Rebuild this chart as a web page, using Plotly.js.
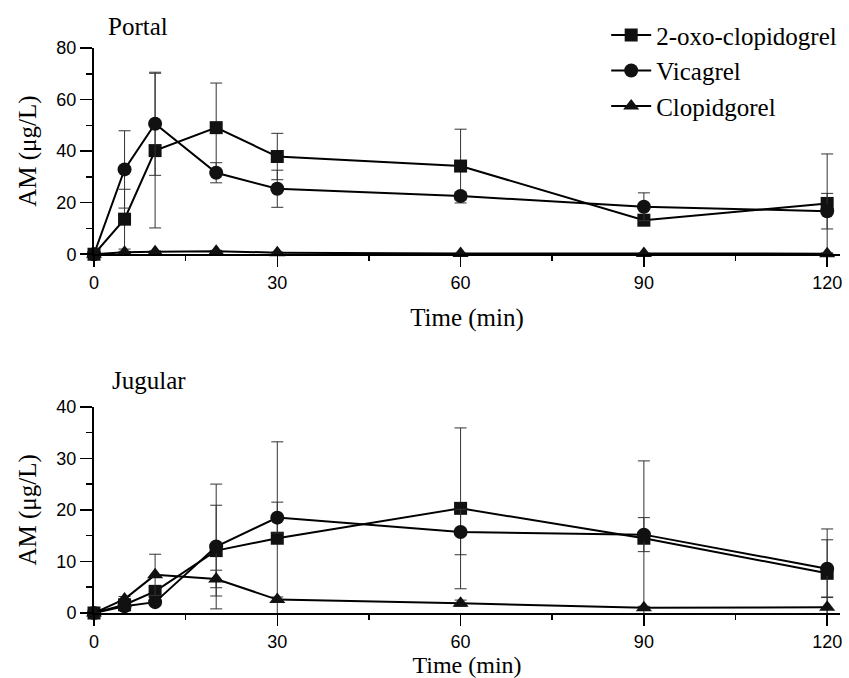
<!DOCTYPE html>
<html>
<head>
<meta charset="utf-8">
<script src="https://cdn.plot.ly/plotly-3.0.1.min.js"></script>
<style>html,body{margin:0;padding:0;background:#fff;}#chart{width:849px;height:678px;}</style>
</head>
<body>
<div id="chart"></div>
<script>
// Time points (min)
var time = [0, 5, 10, 20, 30, 60, 90, 120];
var seriesNames = ["2-oxo-clopidogrel", "Vicagrel", "Clopidgorel"];
var panelTitles = ["Portal", "Jugular"];
var xTickVals = [0, 30, 60, 90, 120];

// Portal vein
var portalOxo     = [0, 13.6, 40.2, 49.1, 37.9, 34.2, 13.2, 19.7];
var portalOxoErr  = [0, 11.6, 30.0, 17.3, 9.0, 14.3, 1.5, 19.2];
var portalVic     = [0, 32.9, 50.6, 31.6, 25.4, 22.6, 18.4, 16.7];
var portalVicErr  = [0, 15.0, 20.0, 3.9, 7.2, 1.5, 5.4, 6.9];
var portalClo     = [0, 0.8, 1.0, 1.2, 0.6, 0.3, 0.3, 0.2];
var portalCloErr  = [0, 0.3, 0.3, 0.3, 0.2, 0.1, 0.1, 0.1];

// Jugular vein
var jugOxo     = [0, 1.6, 4.2, 12.1, 14.5, 20.3, 14.5, 7.7];
var jugOxoErr  = [0, 0.5, 1.0, 8.8, 18.7, 15.6, 15.0, 8.6];
var jugVic     = [0, 1.3, 2.1, 12.9, 18.5, 15.7, 15.2, 8.6];
var jugVicErr  = [0, 0.4, 0.6, 12.1, 3.0, 4.4, 3.3, 5.6];
var jugClo     = [0, 2.7, 7.4, 6.6, 2.6, 1.9, 1.0, 1.1];
var jugCloErr  = [0, 0.5, 4.0, 1.7, 0.5, 0.6, 0.3, 2.0];

var symbols = ["square", "circle", "triangle-up"];
var sizes = [13, 14, 14];

function mk(name, y, err, idx, xa, ya, show) {
  return {
    type: "scatter", mode: "lines+markers", name: name,
    x: time, y: y, xaxis: xa, yaxis: ya, showlegend: show,
    cliponaxis: false,
    line: {color: "#000", width: 2},
    marker: {symbol: symbols[idx], size: sizes[idx], color: "#111"},
    error_y: {type: "data", array: err, visible: true, color: "#333", thickness: 1, width: 6}
  };
}

var data = [
  mk(seriesNames[0], portalOxo, portalOxoErr, 0, "x", "y", true),
  mk(seriesNames[1], portalVic, portalVicErr, 1, "x", "y", true),
  mk(seriesNames[2], portalClo, portalCloErr, 2, "x", "y", true),
  mk(seriesNames[0], jugOxo, jugOxoErr, 0, "x2", "y2", false),
  mk(seriesNames[1], jugVic, jugVicErr, 1, "x2", "y2", false),
  mk(seriesNames[2], jugClo, jugCloErr, 2, "x2", "y2", false)
];

var serif = "Liberation Serif, Times New Roman, serif";
var sans = "Liberation Sans, Arial, sans-serif";

function xax(anchor, standoff, tsize) {
  return {
    anchor: anchor, range: [0, 122.1], domain: [0, 1],
    tickmode: "array", tickvals: xTickVals,
    ticks: "outside", ticklen: 11, tickwidth: 1.5, tickcolor: "#000",
    minor: {dtick: 15, tick0: 0, ticks: "outside", ticklen: 5, tickwidth: 1.5, tickcolor: "#000", showgrid: false},
    showline: true, linewidth: 2, linecolor: "#000",
    showgrid: false, zeroline: false,
    tickfont: {family: sans, size: 18, color: "#000"},
    title: {text: "Time (min)", font: {family: serif, size: tsize, color: "#000"}, standoff: standoff}
  };
}
function yax(anchor, dom, range, dtick) {
  return {
    anchor: anchor, domain: dom, range: range, dtick: dtick,
    ticks: "outside", ticklen: 12, tickwidth: 1.5, tickcolor: "#000",
    minor: {dtick: dtick / 2, ticks: "outside", ticklen: 6, tickwidth: 1.5, tickcolor: "#000", showgrid: false},
    showline: true, linewidth: 2, linecolor: "#000",
    showgrid: false, zeroline: false,
    tickfont: {family: sans, size: 18, color: "#000"},
    title: {text: "AM (μg/L)", font: {family: serif, size: 25, color: "#000"}, standoff: 13}
  };
}

var layout = {
  width: 849, height: 678,
  margin: {l: 94, r: 9, t: 48, b: 65, autoexpand: false},
  paper_bgcolor: "#fff", plot_bgcolor: "#fff",
  xaxis: xax("y", 17, 25),
  yaxis: yax("x", [0.635, 1], [0, 80], 20),
  xaxis2: xax("y2", 4, 24),
  yaxis2: yax("x2", [0, 0.365], [0, 40], 10),
  showlegend: true,
  legend: {
    xref: "container", yref: "container",
    x: 0.714, y: 0.982, xanchor: "left", yanchor: "top",
    font: {family: serif, size: 25, color: "#000"},
    bgcolor: "rgba(0,0,0,0)", tracegroupgap: 0, itemwidth: 40
  },
  annotations: [
    {text: panelTitles[0], xref: "paper", yref: "paper", x: 0.016, y: 1.0, xanchor: "left", yanchor: "bottom", showarrow: false, font: {family: serif, size: 25, color: "#000"}, yshift: 6},
    {text: panelTitles[1], xref: "paper", yref: "paper", x: 0.021, y: 0.365, xanchor: "left", yanchor: "bottom", showarrow: false, font: {family: serif, size: 25, color: "#000"}, yshift: 11}
  ]
};

Plotly.newPlot("chart", data, layout, {displayModeBar: false, staticPlot: true});
</script>
</body>
</html>
